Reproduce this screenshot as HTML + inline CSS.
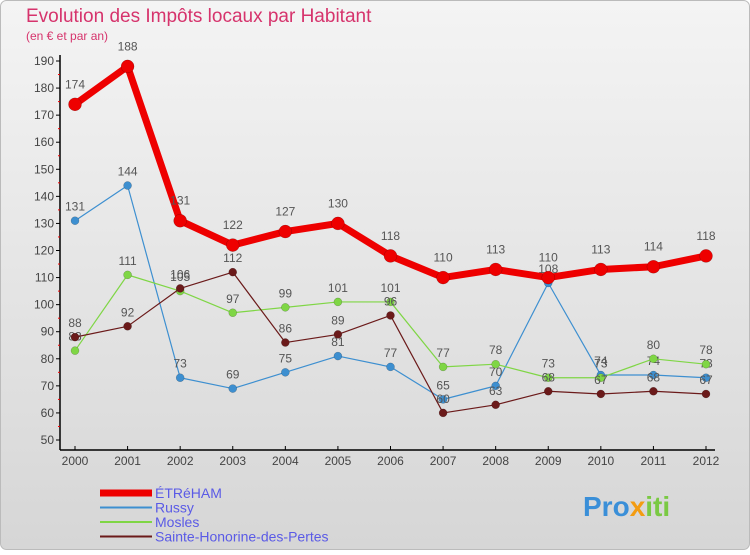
<!DOCTYPE html>
<html><head><meta charset="utf-8"><style>
body{margin:0;width:750px;height:550px;overflow:hidden;font-family:"Liberation Sans",sans-serif}
svg text{font-family:"Liberation Sans",sans-serif}
</style></head><body>
<svg id="c" width="750" height="550">
<defs><linearGradient id="bg" x1="0" y1="0" x2="0" y2="1"><stop offset="0" stop-color="#f4f4f4"/><stop offset="1" stop-color="#d6d6d6"/></linearGradient></defs>
<rect x="0.5" y="0.5" width="749" height="549" rx="6" fill="url(#bg)" stroke="#bbb"/>
<text x="26" y="22" font-size="19" fill="#d6336c">Evolution des Impôts locaux par Habitant</text>
<text x="26" y="40" font-size="12" fill="#d6336c">(en € et par an)</text>
<g id="axes"></g><g id="series"></g><g id="legend"></g>
<text x="583" y="516" font-size="28" font-weight="bold" fill="#3a8fd8">Pro<tspan fill="#f39c12">x</tspan><tspan fill="#7ac943">iti</tspan></text>
</svg>
<script>
const years=[2000,2001,2002,2003,2004,2005,2006,2007,2008,2009,2010,2011,2012];
const yTicks=[50,60,70,80,90,100,110,120,130,140,150,160,170,180,190];
const etreham=[174,188,131,122,127,130,118,110,113,110,113,114,118];
const russy=[131,144,73,69,75,81,77,65,70,108,74,74,73];
const mosles=[83,111,105,97,99,101,101,77,78,73,73,80,78];
const sainte=[88,92,106,112,86,89,96,60,63,68,67,68,67];
const names=["ÉTRéHAM","Russy","Mosles","Sainte-Honorine-des-Pertes"];
const NS="http://www.w3.org/2000/svg";
function X(i){return 75+i*(706-75)/(years.length-1);}
function Y(v){return 440-(v-50)*(440-61)/140;}
function el(t,a,p){const e=document.createElementNS(NS,t);for(const k in a)e.setAttribute(k,a[k]);p.appendChild(e);return e;}
const ax=document.getElementById('axes');
const yl=el('line',{x1:60,y1:55,x2:60,y2:450,stroke:'#000','stroke-width':1.5},ax);


const xl=el('line',{x1:60,y1:450,x2:715,y2:450,stroke:'#000','stroke-width':1.5},ax);


yTicks.forEach(v=>{
  el('line',{x1:56,y1:Y(v),x2:60,y2:Y(v),stroke:'#000'},ax);
  if(v<190)el('line',{x1:58,y1:Y(v+5),x2:60,y2:Y(v+5),stroke:'#e00'},ax);
  const t=el('text',{x:54,y:Y(v)+4,'font-size':12,fill:'#444','text-anchor':'end'},ax);t.textContent=v;
  
  
});
years.forEach((y,i)=>{
  el('line',{x1:X(i),y1:446,x2:X(i),y2:450,stroke:'#000'},ax);
  const t=el('text',{x:X(i),y:465,'font-size':12,fill:'#444','text-anchor':'middle'},ax);t.textContent=y;
  
  
});
const sg=document.getElementById('series');
function series(data,color,w,r,off,name){
  const g=el('g',{},sg);
  
  
  el('polyline',{points:data.map((v,i)=>X(i)+','+Y(v)).join(' '),fill:'none',stroke:color,'stroke-width':w,'stroke-linejoin':'round'},g);
  data.forEach((v,i)=>{
    const c=el('circle',{cx:X(i),cy:Y(v),r:r,fill:color,stroke:'rgba(0,0,0,0.3)','stroke-width':0.5},g);
    
    
    const t=el('text',{x:X(i),y:Y(v)-off,'font-size':12,fill:'#555','text-anchor':'middle'},g);t.textContent=v;
    
    
  });
}
series(russy,'#3d8fd0',1.2,4,10,'series-russy');
series(mosles,'#7fd645',1.2,4,10,'series-mosles');
series(sainte,'#6b1a1a',1.2,4,10,'series-sainte-honorine');
series(etreham,'#ee0000',7,6.5,16,'series-etreham');
const lg=document.getElementById('legend');
const cols=['#ee0000','#3d8fd0','#7fd645','#6b1a1a'];const ws=[7,2,2,2];
names.forEach((n,i)=>{
  const y=493+i*14.5;
  const g=el('g',{},lg);
  
  
  el('line',{x1:100,y1:y,x2:152,y2:y,stroke:cols[i],'stroke-width':ws[i]},g);
  const t=el('text',{x:155,y:y+5,'font-size':14,fill:'#5a5ae6'},g);t.textContent=n;
});
</script>
</body></html>
